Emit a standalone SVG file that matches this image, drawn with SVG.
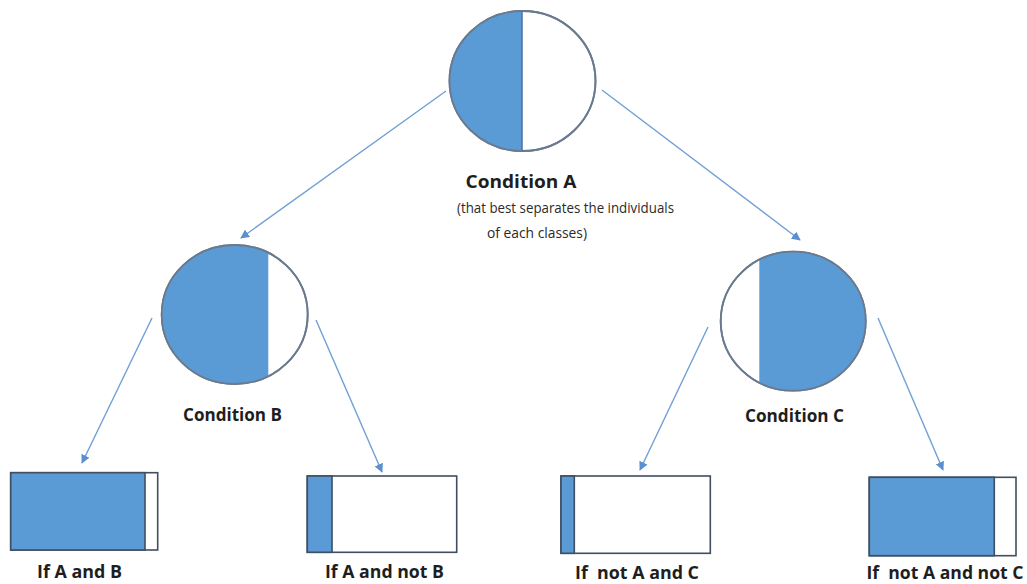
<svg xmlns="http://www.w3.org/2000/svg" width="1027" height="584" viewBox="0 0 1027 584">
  <defs>
    <marker id="arrow" viewBox="0 0 10 10" refX="9" refY="5" markerWidth="9" markerHeight="9" markerUnits="userSpaceOnUse" orient="auto">
      <path d="M0,0 L10,5 L0,10 Z" fill="#5b8fd0"/>
    </marker>
    <style>
      .ring { fill: #ffffff; stroke: #6a7a8e; stroke-width: 1.8; }
      .outline { fill: none; stroke: #6a7a8e; stroke-width: 1.8; }
      .half { fill: #5b9bd5; }
      .split { stroke: #4a6fa8; stroke-width: 1.5; }
      .box { fill: #ffffff; stroke: #3f4e60; stroke-width: 1.6; }
      .bar { fill: #5b9bd5; stroke: #3f4e60; stroke-width: 1.6; }
      .edge { stroke: #6f9fd4; stroke-width: 1.4; fill: none; marker-end: url(#arrow); }
      .title { font-family: "Open Sans", "Liberation Sans", sans-serif; font-weight: bold; font-size: 17px; fill: #1e1e1e; }
      .note { font-family: "Open Sans", "Liberation Sans", sans-serif; font-size: 15px; fill: #2a2a2a; }
    </style>
  </defs>
  <rect width="1027" height="584" fill="#ffffff"/>

  <!-- connectors -->
  <g id="connectors">
    <line class="edge" x1="446" y1="91" x2="241" y2="238"/>
    <line class="edge" x1="602" y1="90" x2="800" y2="240"/>
    <line class="edge" x1="152" y1="318" x2="82" y2="463"/>
    <line class="edge" x1="316" y1="320" x2="382" y2="472"/>
    <line class="edge" x1="708" y1="327" x2="640" y2="470"/>
    <line class="edge" x1="878" y1="318" x2="943" y2="470"/>
  </g>

  <!-- root split -->
  <g id="node-a">
    <ellipse class="ring" cx="522.5" cy="81" rx="73" ry="70"/>
    <path class="half" d="M522,11 A73,70 0 0,0 522,151 Z"/>
    <ellipse class="outline" cx="522.5" cy="81" rx="73" ry="70"/>
    <line class="split" x1="522" y1="11" x2="522" y2="151"/>
    <text class="title" x="521" y="187.5" text-anchor="middle" textLength="111" lengthAdjust="spacingAndGlyphs">Condition A</text>
    <text class="note" x="565.5" y="213" text-anchor="middle" textLength="217" lengthAdjust="spacingAndGlyphs">(that best separates the individuals</text>
    <text class="note" x="537" y="237.5" text-anchor="middle" textLength="100" lengthAdjust="spacingAndGlyphs">of each classes)</text>
  </g>

  <!-- left split -->
  <g id="node-b">
    <ellipse class="ring" cx="234.7" cy="314.5" rx="73" ry="69.5"/>
    <path class="half" d="M268.3,252.8 A73,69.5 0 1,0 268.3,376.2 Z"/>
    <ellipse class="outline" cx="234.7" cy="314.5" rx="73" ry="69.5"/>
    <text class="title" x="232.5" y="420.5" text-anchor="middle" textLength="99" lengthAdjust="spacingAndGlyphs">Condition B</text>
  </g>

  <!-- right split -->
  <g id="node-c">
    <ellipse class="ring" cx="793.2" cy="321.2" rx="72.5" ry="69.5"/>
    <path class="half" d="M759.3,259.8 A72.5,69.5 0 1,1 759.3,382.6 Z"/>
    <ellipse class="outline" cx="793.2" cy="321.2" rx="72.5" ry="69.5"/>
    <text class="title" x="794.5" y="421.5" text-anchor="middle" textLength="99" lengthAdjust="spacingAndGlyphs">Condition C</text>
  </g>

  <!-- leaves -->
  <g id="leaf-ab">
    <rect class="box" x="10.7" y="472.7" width="147" height="77.3"/>
    <rect class="bar" x="10.7" y="472.7" width="134.3" height="77.3"/>
    <text class="title" x="79.5" y="578" text-anchor="middle" textLength="85" lengthAdjust="spacingAndGlyphs">If A and B</text>
  </g>

  <g id="leaf-a-notb">
    <rect class="box" x="307.3" y="476" width="149.4" height="76.3"/>
    <rect class="bar" x="307.3" y="476" width="24.7" height="76.3"/>
    <text class="title" x="384.5" y="578" text-anchor="middle" textLength="119" lengthAdjust="spacingAndGlyphs">If A and not B</text>
  </g>

  <g id="leaf-nota-c">
    <rect class="box" x="561" y="476" width="149.3" height="77.3"/>
    <rect class="bar" x="561" y="476" width="13.3" height="77.3"/>
    <text class="title" x="637" y="578.5" text-anchor="middle" textLength="124" lengthAdjust="spacingAndGlyphs" style="white-space:pre">If  not A and C</text>
  </g>

  <g id="leaf-nota-notc">
    <rect class="box" x="869.3" y="477.3" width="146.7" height="78.4"/>
    <rect class="bar" x="869.3" y="477.3" width="125" height="78.4"/>
    <text class="title" x="945" y="578.5" text-anchor="middle" textLength="157" lengthAdjust="spacingAndGlyphs" style="white-space:pre">If  not A and not C</text>
  </g>
</svg>
